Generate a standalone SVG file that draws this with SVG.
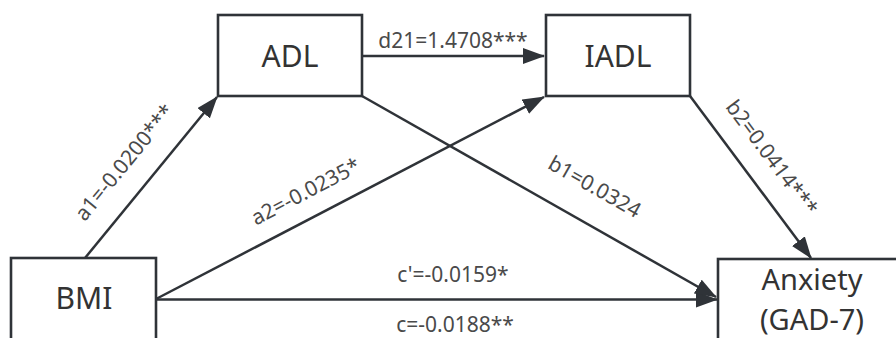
<svg xmlns="http://www.w3.org/2000/svg" width="896" height="338" viewBox="0 0 896 338">
  <style>
    .box { fill: #ffffff; stroke: #2f3338; stroke-width: 2.6; }
    .node-label { font-family: "Noto Sans", "Open Sans", sans-serif; font-size: 30px; fill: #333333; text-anchor: middle; }
    .node-label.two-line { font-size: 29px; }
    .edge { fill: none; stroke: #2f3338; stroke-width: 2.5; marker-end: url(#arrow); }
    .edge-label { font-family: "Noto Sans", "Open Sans", sans-serif; font-size: 21px; fill: #4a4a4a; text-anchor: middle; }
  </style>
  <defs>
    <marker id="arrow" markerUnits="userSpaceOnUse" markerWidth="22" markerHeight="16" viewBox="0 0 22 16" refX="21" refY="8" orient="auto">
      <path d="M0,0 L22,8 L0,16 Z" fill="#2f3338"/>
    </marker>
  </defs>

  <rect width="896" height="338" fill="#ffffff"/>

  <!-- paths between variables -->
  <g id="connectors">
    <path class="edge" d="M85,258 L217,97"/>
    <path class="edge" d="M362,56 L544,56"/>
    <path class="edge" d="M156,299 L544,97"/>
    <path class="edge" d="M156,299.5 L717,299.5"/>
    <path class="edge" d="M362,96 L716,297"/>
    <path class="edge" d="M690,96 L811,258"/>

    <text class="edge-label" x="453" y="48">d21=1.4708***</text>
    <text class="edge-label" transform="translate(130,167) rotate(-50.6)">a1=-0.0200***</text>
    <text class="edge-label" transform="translate(309,198) rotate(-27.6)">a2=-0.0235*</text>
    <text class="edge-label" transform="translate(591,193) rotate(29.6)">b1=0.0324</text>
    <text class="edge-label" transform="translate(766,162) rotate(53.2)">b2=0.0414***</text>
    <text class="edge-label" x="453" y="282">c'=-0.0159*</text>
    <text class="edge-label" x="455" y="332">c=-0.0188**</text>
  </g>

  <g id="adl">
    <rect class="box" x="218" y="15" width="144" height="81"/>
    <text class="node-label" x="290" y="67">ADL</text>
  </g>

  <g id="iadl">
    <rect class="box" x="546" y="15" width="144" height="81"/>
    <text class="node-label" x="618" y="67">IADL</text>
  </g>

  <g id="bmi">
    <rect class="box" x="11" y="258" width="145" height="95"/>
    <text class="node-label" x="84" y="309">BMI</text>
  </g>

  <g id="anxiety">
    <rect class="box" x="718" y="259" width="200" height="95"/>
    <text class="node-label two-line" x="812" y="289.5">Anxiety</text>
    <text class="node-label two-line" x="812" y="329.5">(GAD-7)</text>
  </g>
</svg>
